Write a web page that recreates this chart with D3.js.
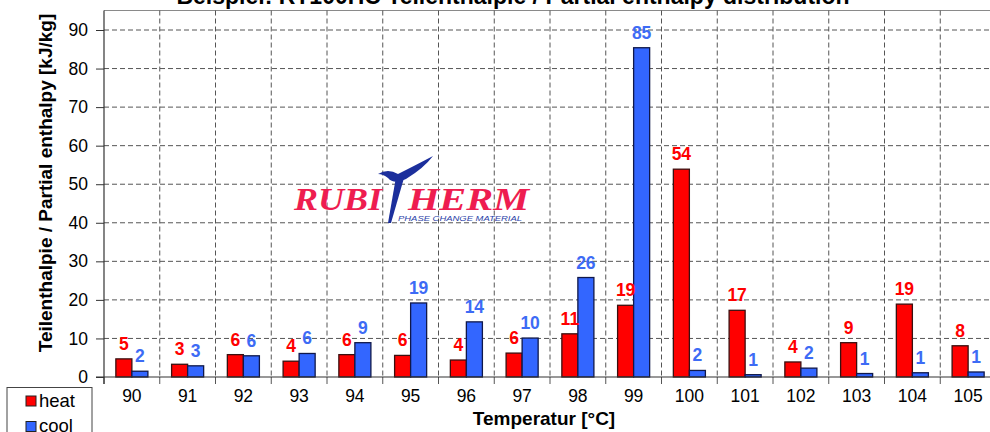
<!DOCTYPE html>
<html>
<head>
<meta charset="utf-8">
<script src="https://cdn.jsdelivr.net/npm/d3@7"></script>
<style>
  html, body { margin: 0; padding: 0; background: #fff; overflow: hidden; }
  svg { display: block; font-family: "Liberation Sans", Arial, sans-serif; }
</style>
</head>
<body>
<div id="chart"></div>
<script>
// data
var categories = ["90","91","92","93","94","95","96","97","98","99","100","101","102","103","104","105"];
var heatValues = [4.7, 3.3, 5.8, 4.1, 5.8, 5.6, 4.4, 6.2, 11.2, 18.6, 53.9, 17.3, 3.9, 8.9, 18.9, 8.1];
var coolValues = [1.5, 2.9, 5.5, 6.1, 8.9, 19.2, 14.3, 10.1, 25.8, 85.4, 1.7, 0.6, 2.3, 0.9, 1.1, 1.3];
var seriesNames = ["heat", "cool"];
var yTicks = [0, 10, 20, 30, 40, 50, 60, 70, 80, 90];

var W = 990, H = 432;
var margin = {left: 104, right: -6, top: 10.5, bottom: 55};
var colors = {heat: "#ff0000", cool: "#3366ff"};
var labelColors = {heat: "#ff0000", cool: "#3d6bf5"};

var svg = d3.select("#chart").append("svg").attr("width", W).attr("height", H);

var x = d3.scaleBand().domain(categories).range([margin.left, W - margin.right]).padding(0);
var xs = d3.scaleBand().domain(seriesNames).range([0, x.bandwidth()]).paddingInner(0).paddingOuter(0.74);
var y = d3.scaleLinear().domain([0, 90]).range([377, 30]);

// plot top border
svg.append("line").attr("x1", margin.left).attr("x2", W).attr("y1", margin.top).attr("y2", margin.top)
  .attr("stroke", "#8a8a8a").attr("stroke-width", 1);

// horizontal dashed grid
svg.append("g").selectAll("line").data(yTicks.filter(function(d){ return d > 0; })).enter().append("line")
  .attr("x1", margin.left).attr("x2", W)
  .attr("y1", function(d){ return y(d); }).attr("y2", function(d){ return y(d); })
  .attr("stroke", "#555").attr("stroke-width", 1).attr("stroke-dasharray", "5,3");

// vertical dashed grid at band edges
var edges = categories.slice(1).map(function(c){ return x(c); });
svg.append("g").selectAll("line").data(edges).enter().append("line")
  .attr("x1", function(d){ return d; }).attr("x2", function(d){ return d; })
  .attr("y1", margin.top).attr("y2", y(0))
  .attr("stroke", "#555").attr("stroke-width", 1).attr("stroke-dasharray", "5,3");
// tick marks below axis
svg.append("g").selectAll("line").data([margin.left].concat(edges)).enter().append("line")
  .attr("x1", function(d){ return d; }).attr("x2", function(d){ return d; })
  .attr("y1", y(0)).attr("y2", y(0) + 7)
  .attr("stroke", "#555").attr("stroke-width", 1);

// logo (decoration)
var logo = svg.append("g");
logo.append("text").attr("x", 294).attr("y", 210).attr("textLength", 88).attr("lengthAdjust", "spacingAndGlyphs")
  .style("font-family", "'Liberation Serif', serif").style("font-style", "italic").style("font-weight", "bold")
  .style("font-size", "32px").attr("fill", "#ee1d50").text("RUBI");
logo.append("text").attr("x", 408).attr("y", 210).attr("textLength", 121).attr("lengthAdjust", "spacingAndGlyphs")
  .style("font-family", "'Liberation Serif', serif").style("font-style", "italic").style("font-weight", "bold")
  .style("font-size", "32px").attr("fill", "#ee1d50").text("HERM");
logo.append("text").attr("x", 398).attr("y", 221).attr("textLength", 124).attr("lengthAdjust", "spacingAndGlyphs")
  .style("font-style", "italic").style("font-size", "8px").attr("fill", "#2b3fa8").text("PHASE CHANGE MATERIAL");
logo.append("path").attr("fill", "#1c2f9c")
  .attr("d", "M378,174 Q388,168 398,174 Q414,166 433,156 Q424,168 406,179 Q394,185 388,178 Q383,174 378,174 Z");
logo.append("path").attr("fill", "#1c2f9c")
  .attr("d", "M396,177 L404,178 L391,223 L388,223 Z");

// bars
var groups = svg.append("g").selectAll("g").data(categories).enter().append("g")
  .attr("transform", function(c){ return "translate(" + x(c) + ",0)"; });
var bars = groups.selectAll("rect").data(function(c, i){
  return [{s: "heat", v: heatValues[i]}, {s: "cool", v: coolValues[i]}];
}).enter();
bars.append("rect")
  .attr("x", function(d){ return xs(d.s); })
  .attr("y", function(d){ return y(d.v); })
  .attr("width", xs.bandwidth())
  .attr("height", function(d){ return y(0) - y(d.v); })
  .attr("fill", function(d){ return colors[d.s]; })
  .attr("stroke", function(d){ return d.s === "heat" ? "#3a1010" : "#10184a"; })
  .attr("stroke-width", 1.3);
bars.append("text")
  .attr("x", function(d){ return xs(d.s) + xs.bandwidth() / 2; })
  .attr("y", function(d){ return y(d.v) - 9; })
  .attr("text-anchor", "middle")
  .style("font-size", "17.5px").style("font-weight", "bold")
  .attr("fill", function(d){ return labelColors[d.s]; })
  .text(function(d){ return Math.round(d.v); });

// axes lines
svg.append("line").attr("x1", margin.left).attr("x2", margin.left).attr("y1", margin.top).attr("y2", y(0) + 7)
  .attr("stroke", "#333").attr("stroke-width", 1.2);
svg.append("line").attr("x1", margin.left - 8).attr("x2", W).attr("y1", y(0)).attr("y2", y(0))
  .attr("stroke", "#333").attr("stroke-width", 1.2);

// y axis
var yAxis = svg.append("g").attr("transform", "translate(" + margin.left + ",0)")
  .call(d3.axisLeft(y).tickValues(yTicks).tickSize(8).tickPadding(8));
yAxis.select(".domain").remove();
yAxis.selectAll(".tick line").attr("stroke", "#333");
yAxis.selectAll("text").style("font-size", "17.5px").attr("fill", "#000").style("font-family", "'Liberation Sans', Arial, sans-serif");

// x axis labels
var xAxis = svg.append("g").attr("transform", "translate(0," + y(0) + ")")
  .call(d3.axisBottom(x).tickSize(0).tickPadding(13));
xAxis.select(".domain").remove();
xAxis.selectAll("text").style("font-size", "17.5px").attr("fill", "#000").style("font-family", "'Liberation Sans', Arial, sans-serif");

// titles
svg.append("text").attr("x", 513).attr("y", 4).attr("text-anchor", "middle")
  .style("font-size", "23px").style("font-weight", "bold").text("Beispiel: RT100HC Teilenthalpie / Partial enthalpy distribution");
svg.append("text").attr("x", 544).attr("y", 425).attr("text-anchor", "middle")
  .style("font-size", "19px").style("font-weight", "bold").text("Temperatur [°C]");
svg.append("text").attr("transform", "translate(52,183) rotate(-90)").attr("text-anchor", "middle")
  .style("font-size", "19px").style("font-weight", "bold").text("Teilenthalpie / Partial enthalpy [kJ/kg]");

// legend
var legend = svg.append("g");
legend.append("rect").attr("x", 7).attr("y", 387.5).attr("width", 85).attr("height", 60)
  .attr("fill", "#fff").attr("stroke", "#444").attr("stroke-width", 1);
var li = legend.selectAll("g").data(seriesNames).enter().append("g")
  .attr("transform", function(d, i){ return "translate(26," + (396 + i * 25.5) + ")"; });
li.append("rect").attr("width", 10).attr("height", 10)
  .attr("fill", function(d){ return colors[d]; }).attr("stroke", "#222").attr("stroke-width", 1);
li.append("text").attr("x", 13).attr("y", 10.5).style("font-size", "18.5px").text(function(d){ return d; });
</script>
</body>
</html>
